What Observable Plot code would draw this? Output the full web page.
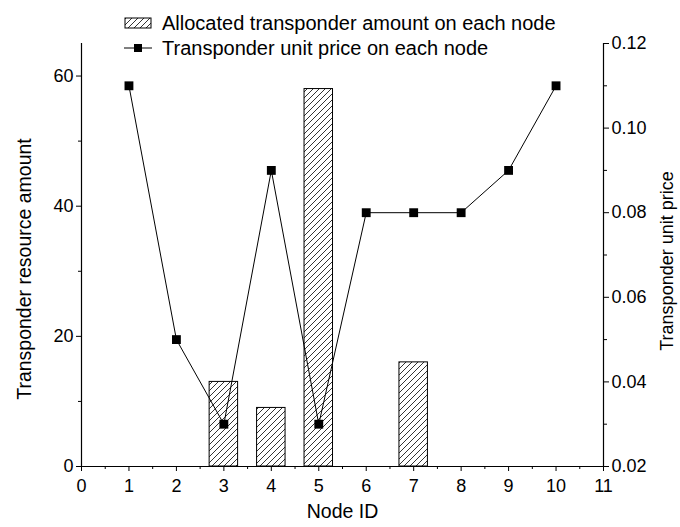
<!DOCTYPE html>
<html>
<head>
<meta charset="utf-8">
<script src="https://cdn.jsdelivr.net/npm/d3@7"></script>
<script src="https://cdn.jsdelivr.net/npm/@observablehq/plot@0.6"></script>
<style>
  html, body { margin: 0; padding: 0; background: #fff; }
  #chart { width: 680px; height: 527px; }
</style>
</head>
<body>
<div id="chart"></div>
<script>
// ---- data ----
const nodeIds = [1, 2, 3, 4, 5, 6, 7, 8, 9, 10];
const unitPrices = [0.11, 0.05, 0.03, 0.09, 0.03, 0.08, 0.08, 0.08, 0.09, 0.11];
const barNodes = [3, 4, 5, 7];
const barAmounts = [13, 9, 58, 16];
const xTicks = [0, 1, 2, 3, 4, 5, 6, 7, 8, 9, 10, 11];
const xMinorTicks = [0.5, 1.5, 2.5, 3.5, 4.5, 5.5, 6.5, 7.5, 8.5, 9.5, 10.5];
const leftTicks = [0, 20, 40, 60];
const leftMinorTicks = [10, 30, 50];
const rightTicks = [0.02, 0.04, 0.06, 0.08, 0.10, 0.12];
const rightMinorTicks = [0.03, 0.05, 0.07, 0.09, 0.11];
const legendLabels = ["Allocated transponder amount on each node", "Transponder unit price on each node"];

// secondary (price) axis mapped onto the primary y scale
const leftMax = 65, priceMin = 0.02, priceMax = 0.12;
const toY = p => (p - priceMin) / (priceMax - priceMin) * leftMax;
const fromY = v => priceMin + v / leftMax * (priceMax - priceMin);

const bars = barNodes.map((n, i) => ({node: n, amount: barAmounts[i]}));
const prices = nodeIds.map((n, i) => ({node: n, price: unitPrices[i]}));

const FONT = "'Liberation Sans', Arial, Helvetica, sans-serif";
const barHalf = 0.3;

const svg = Plot.plot({
  width: 680,
  height: 527,
  marginLeft: 81,
  marginRight: 77,
  marginTop: 43,
  marginBottom: 61,
  style: {fontFamily: FONT, fontSize: "18px", color: "black", background: "white", overflow: "visible"},
  x: {domain: [0, 11]},
  y: {domain: [0, leftMax]},
  marks: [
    Plot.rectY(bars, {x1: d => d.node - barHalf, x2: d => d.node + barHalf, y1: 0, y2: "amount", fill: "url(#hatch)", stroke: "black", strokeWidth: 1}),
    Plot.line(prices, {x: "node", y: d => toY(d.price), stroke: "black", strokeWidth: 1}),
    Plot.dot(prices, {x: "node", y: d => toY(d.price), symbol: "square", r: 5, fill: "black", stroke: "none"}),
    // axes
    Plot.ruleY([0], {stroke: "black", strokeWidth: 1.2}),
    Plot.ruleX([0], {stroke: "black", strokeWidth: 1.2}),
    Plot.ruleX([11], {stroke: "black", strokeWidth: 1.2}),
    Plot.axisX({ticks: xTicks, tickSize: 5, tickPadding: 8, label: null, fontSize: 18}),
    Plot.axisX({ticks: xMinorTicks, tickSize: 3, tickFormat: () => "", label: null}),
    Plot.axisY({anchor: "left", ticks: leftTicks, tickSize: 5, tickPadding: 3, label: null, fontSize: 18}),
    Plot.axisY({anchor: "left", ticks: leftMinorTicks, tickSize: 3, tickFormat: () => "", label: null}),
    Plot.axisY({anchor: "right", ticks: rightTicks.map(toY), tickFormat: d => fromY(d).toFixed(2), tickSize: 5, tickPadding: 3, label: null, fontSize: 18}),
    Plot.axisY({anchor: "right", ticks: rightMinorTicks.map(toY), tickSize: 3, tickFormat: () => "", label: null}),
    // axis titles
    Plot.text(["Node ID"], {frameAnchor: "bottom", dy: 51, fontSize: 19.5, fill: "black", textAnchor: "middle"}),
    Plot.text(["Transponder resource amount"], {frameAnchor: "left", dx: -57, dy: 14, rotate: -90, fontSize: 19.5, fill: "black", textAnchor: "middle"}),
    Plot.text(["Transponder unit price"], {frameAnchor: "right", dx: 64, dy: 6, rotate: -90, fontSize: 18, fill: "black", textAnchor: "middle"})
  ]
});

// hatch pattern
const defs = d3.select(svg).insert("defs", ":first-child");
const pat = defs.append("pattern")
  .attr("id", "hatch").attr("patternUnits", "userSpaceOnUse")
  .attr("width", 6).attr("height", 6);
pat.append("rect").attr("width", 6).attr("height", 6).attr("fill", "white");
pat.append("path").attr("d", "M-1,7 L7,-1 M-1,1 L1,-1 M5,7 L7,5")
  .attr("stroke", "black").attr("stroke-width", 0.8).attr("fill", "none");

// legend (inside the svg, top area)
const lg = d3.select(svg).append("g").attr("font-family", FONT).attr("font-size", 20)
  .attr("fill", "black").attr("text-anchor", "start");
lg.append("rect").attr("x", 125).attr("y", 18).attr("width", 26).attr("height", 10)
  .attr("fill", "url(#hatch)").attr("stroke", "black").attr("stroke-width", 1);
lg.append("text").attr("x", 162).attr("y", 30).text(legendLabels[0]);
lg.append("line").attr("x1", 124).attr("x2", 152).attr("y1", 48).attr("y2", 48)
  .attr("stroke", "black").attr("stroke-width", 1);
lg.append("rect").attr("x", 134).attr("y", 44).attr("width", 8).attr("height", 8).attr("fill", "black");
lg.append("text").attr("x", 162).attr("y", 55).text(legendLabels[1]);

document.getElementById("chart").appendChild(svg);
</script>
</body>
</html>
